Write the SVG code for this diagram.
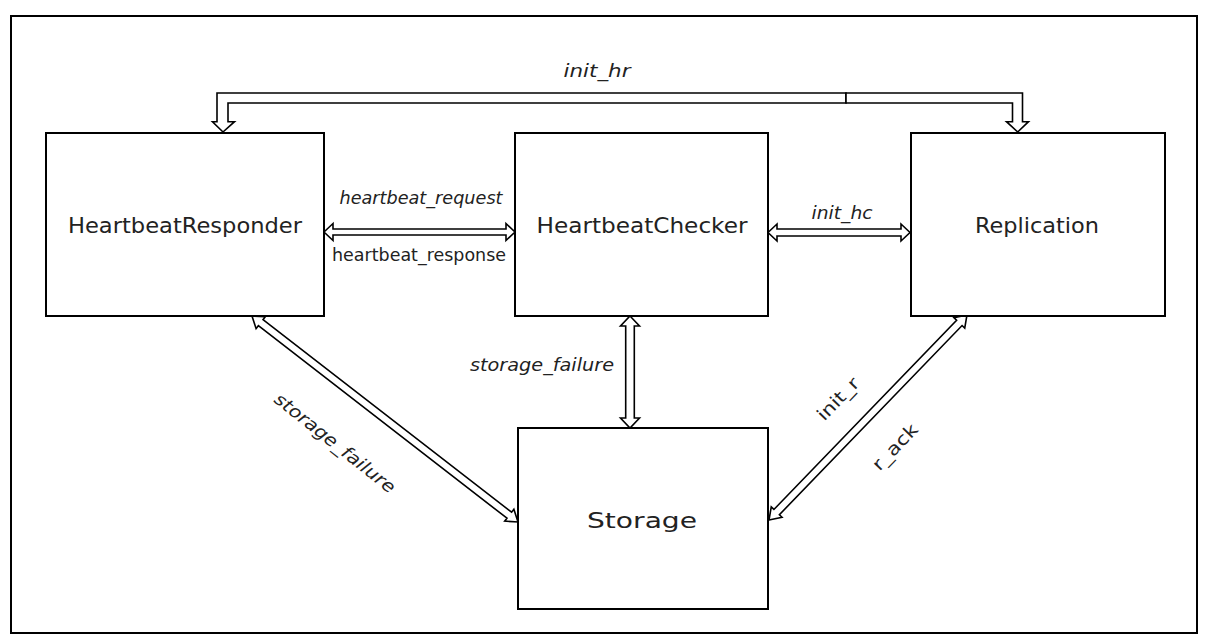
<svg xmlns="http://www.w3.org/2000/svg" width="1208" height="644" viewBox="0 0 1208 644">
<style>
.frame{fill:none;stroke:#000;stroke-width:2}
.node{fill:#fff;stroke:#000;stroke-width:2}
.nlabel{font-family:"DejaVu Sans",sans-serif;font-size:22px;fill:#222;text-anchor:middle}
.elabel{font-family:"DejaVu Sans",sans-serif;font-size:17.5px;fill:#222;text-anchor:middle}
.it{font-style:italic}
.arrow{fill:#fff;stroke:#000;stroke-width:1.6;stroke-linejoin:miter}
</style>
<rect width="1208" height="644" fill="#fff"/>
<rect class="frame" x="11" y="16" width="1186" height="617"/>
<g id="connectors">
  <polygon class="arrow" points="846,93 217,93 217,121.7 212.5,121.7 223,132 234.5,121.7 228,121.7 228,103 846,103"/>
  <polygon class="arrow" points="846,93 1022.5,93 1022.5,121.7 1028.5,121.7 1017.7,132 1006.5,121.7 1012.5,121.7 1012.5,103 846,103"/>
  <text class="elabel it" x="597" y="77" textLength="67" lengthAdjust="spacingAndGlyphs">init_hr</text>
  <path class="arrow" transform="translate(324,232)" d="M0,0 L9,-8.5 L9,-3 L182,-3 L182,-8.5 L191,0 L182,8.5 L182,3 L9,3 L9,8.5 Z"/>
  <text class="elabel it" x="421" y="204" textLength="163" lengthAdjust="spacingAndGlyphs">heartbeat_request</text>
  <text class="elabel" x="419" y="261" textLength="174" lengthAdjust="spacingAndGlyphs">heartbeat_response</text>
  <path class="arrow" transform="translate(768,232.5)" d="M0,0 L9,-8.5 L9,-3.5 L133,-3.5 L133,-8.5 L142,0 L133,8.5 L133,3.5 L9,3.5 L9,8.5 Z"/>
  <text class="elabel it" x="842" y="219" textLength="61" lengthAdjust="spacingAndGlyphs">init_hc</text>
  <path class="arrow" transform="translate(630,316) rotate(90)" d="M0,0 L10,-9.5 L10,-4.3 L102,-4.3 L102,-9.5 L112,0 L102,9.5 L102,4.3 L10,4.3 L10,9.5 Z"/>
  <text class="elabel it" x="542" y="371" textLength="144" lengthAdjust="spacingAndGlyphs">storage_failure</text>
  <path class="arrow" transform="translate(252,316) rotate(37.75)" d="M0,0 L11,-7.5 L11,-3.8 L325.4,-3.8 L325.4,-7.5 L336.4,0 L325.4,7.5 L325.4,3.8 L11,3.8 L11,7.5 Z"/>
  <text class="elabel it" transform="translate(335,443) rotate(38.5)" y="6" textLength="149" lengthAdjust="spacingAndGlyphs">storage_failure</text>
  <path class="arrow" transform="translate(769,520) rotate(-46)" d="M0,0 L11,-7.5 L11,-3.8 L274,-3.8 L274,-7.5 L285,0 L274,7.5 L274,3.8 L11,3.8 L11,7.5 Z"/>
  <text class="elabel" transform="translate(838,399) rotate(-46)" y="6" textLength="52" lengthAdjust="spacingAndGlyphs">init_r</text>
  <text class="elabel" transform="translate(895,447) rotate(-46)" y="6" textLength="57" lengthAdjust="spacingAndGlyphs">r_ack</text>
</g>
<g id="HeartbeatResponder">
  <rect class="node" x="46" y="133" width="278" height="183"/>
  <text class="nlabel" x="185" y="233" textLength="234" lengthAdjust="spacingAndGlyphs">HeartbeatResponder</text>
</g>
<g id="HeartbeatChecker">
  <rect class="node" x="515" y="133" width="253" height="183"/>
  <text class="nlabel" x="642" y="233" textLength="211" lengthAdjust="spacingAndGlyphs">HeartbeatChecker</text>
</g>
<g id="Replication">
  <rect class="node" x="911" y="133" width="254" height="183"/>
  <text class="nlabel" x="1037" y="233" textLength="124" lengthAdjust="spacingAndGlyphs">Replication</text>
</g>
<g id="Storage">
  <rect class="node" x="518" y="428" width="250" height="181"/>
  <text class="nlabel" x="642" y="528" textLength="110" lengthAdjust="spacingAndGlyphs">Storage</text>
</g>
</svg>
